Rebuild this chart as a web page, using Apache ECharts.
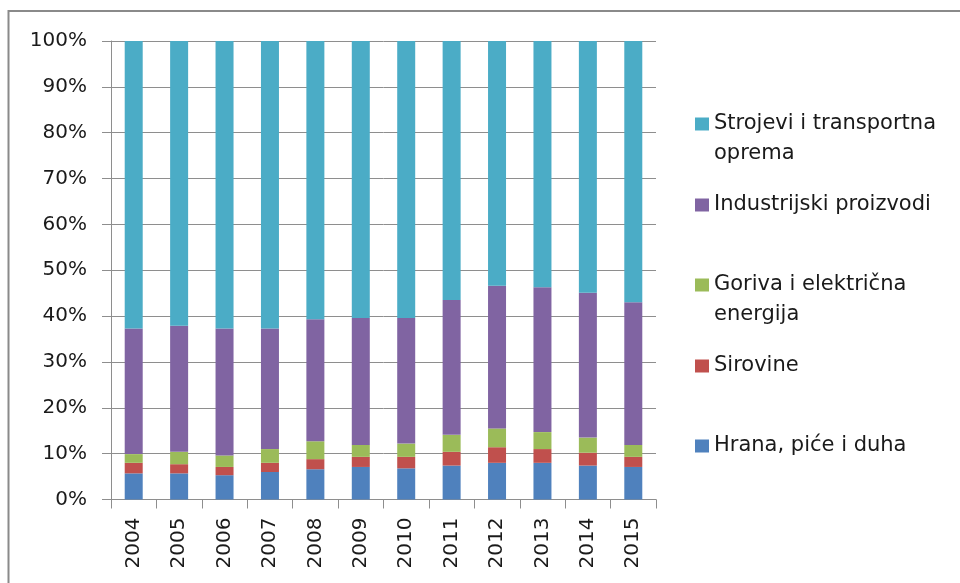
<!DOCTYPE html>
<html>
<head>
<meta charset="utf-8">
<script src="https://cdn.jsdelivr.net/npm/echarts@6/dist/echarts.min.js"></script>
<style>
html,body{margin:0;padding:0;background:#fff;}
#chart{width:960px;height:583px;}
</style>
</head>
<body>
<div id="chart"></div>
<script>
const years = ['2004','2005','2006','2007','2008','2009','2010','2011','2012','2013','2014','2015'];
const yTicks = [0,10,20,30,40,50,60,70,80,90,100];

const hrana     = [5.7, 5.7, 5.3, 6.0, 6.6, 7.1, 6.8, 7.4, 8.0, 8.0, 7.4, 7.1];
const sirovine  = [2.3, 2.0, 1.8, 2.0, 2.2, 2.2, 2.5, 3.0, 3.4, 3.0, 2.8, 2.2];
const goriva    = [1.9, 2.7, 2.5, 3.0, 3.9, 2.6, 2.9, 3.7, 4.1, 3.7, 3.3, 2.6];
const industr   = [27.4, 27.5, 27.7, 26.3, 26.6, 27.7, 27.4, 29.4, 31.1, 31.6, 31.6, 31.1];
const strojevi  = [62.7, 62.1, 62.7, 62.7, 60.7, 60.4, 60.4, 56.5, 53.4, 53.7, 54.9, 57.0];

const names = {
  hrana: 'Hrana, piće i duha',
  sirovine: 'Sirovine',
  goriva: 'Goriva i električna energija',
  industr: 'Industrijski proizvodi',
  strojevi: 'Strojevi i transportna oprema'
};
const colors = {
  hrana: '#4F81BD', sirovine: '#C0504D', goriva: '#9BBB59', industr: '#8064A2', strojevi: '#4BACC6'
};

const FONT = 'DejaVu Sans';
const GRAY = '#8e8e8e';

function mkLegend(name, top, label) {
  return {
    data: [name],
    left: 695,
    top: top,
    padding: 0,
    orient: 'vertical',
    icon: 'rect',
    itemWidth: 14,
    itemHeight: 13,
    itemGap: 0,
    selectedMode: false,
    formatter: function () { return label; },
    textStyle: { fontFamily: FONT, fontSize: 21, color: '#1a1a1a', lineHeight: 30 }
  };
}

function mkSeries(key, vals) {
  return {
    name: names[key],
    type: 'bar',
    stack: 'total',
    barWidth: 18,
    itemStyle: { color: colors[key] },
    data: vals
  };
}

const chart = echarts.init(document.getElementById('chart'), null, { renderer: 'canvas' });
chart.setOption({
  animation: false,
  backgroundColor: '#fff',
  graphic: [{
    type: 'rect',
    shape: { x: 8.5, y: 11, width: 1000, height: 1000 },
    style: { fill: 'none', stroke: '#8a8a8a', lineWidth: 2 },
    silent: true
  }],
  grid: { left: 111, right: 304, top: 41, bottom: 83.5, containLabel: false },
  legend: [
    mkLegend(names.strojevi, 79, '\nStrojevi i transportna\noprema'),
    mkLegend(names.industr, 190, 'Industrijski proizvodi'),
    mkLegend(names.goriva, 240, '\nGoriva i električna\nenergija'),
    mkLegend(names.sirovine, 351, 'Sirovine'),
    mkLegend(names.hrana, 431, 'Hrana, piće i duha')
  ],
  xAxis: {
    type: 'category',
    data: years,
    boundaryGap: true,
    axisLine: { show: true, lineStyle: { color: GRAY, width: 1 } },
    axisTick: { show: true, length: 9, alignWithLabel: false, lineStyle: { color: GRAY } },
    axisLabel: { rotate: 90, margin: 18, fontFamily: FONT, fontSize: 20, color: '#1a1a1a', interval: 0 },
    splitLine: { show: false }
  },
  yAxis: {
    type: 'value',
    min: yTicks[0],
    max: yTicks[yTicks.length - 1],
    interval: yTicks[1] - yTicks[0],
    axisLine: { show: true, lineStyle: { color: GRAY, width: 1 } },
    axisTick: { show: true, length: 9, lineStyle: { color: GRAY } },
    axisLabel: { margin: 24, fontFamily: FONT, fontSize: 20, color: '#1a1a1a', formatter: '{value}%' },
    splitLine: { show: true, lineStyle: { color: GRAY, width: 1 } }
  },
  series: [
    mkSeries('hrana', hrana),
    mkSeries('sirovine', sirovine),
    mkSeries('goriva', goriva),
    mkSeries('industr', industr),
    mkSeries('strojevi', strojevi)
  ]
});
</script>
</body>
</html>
